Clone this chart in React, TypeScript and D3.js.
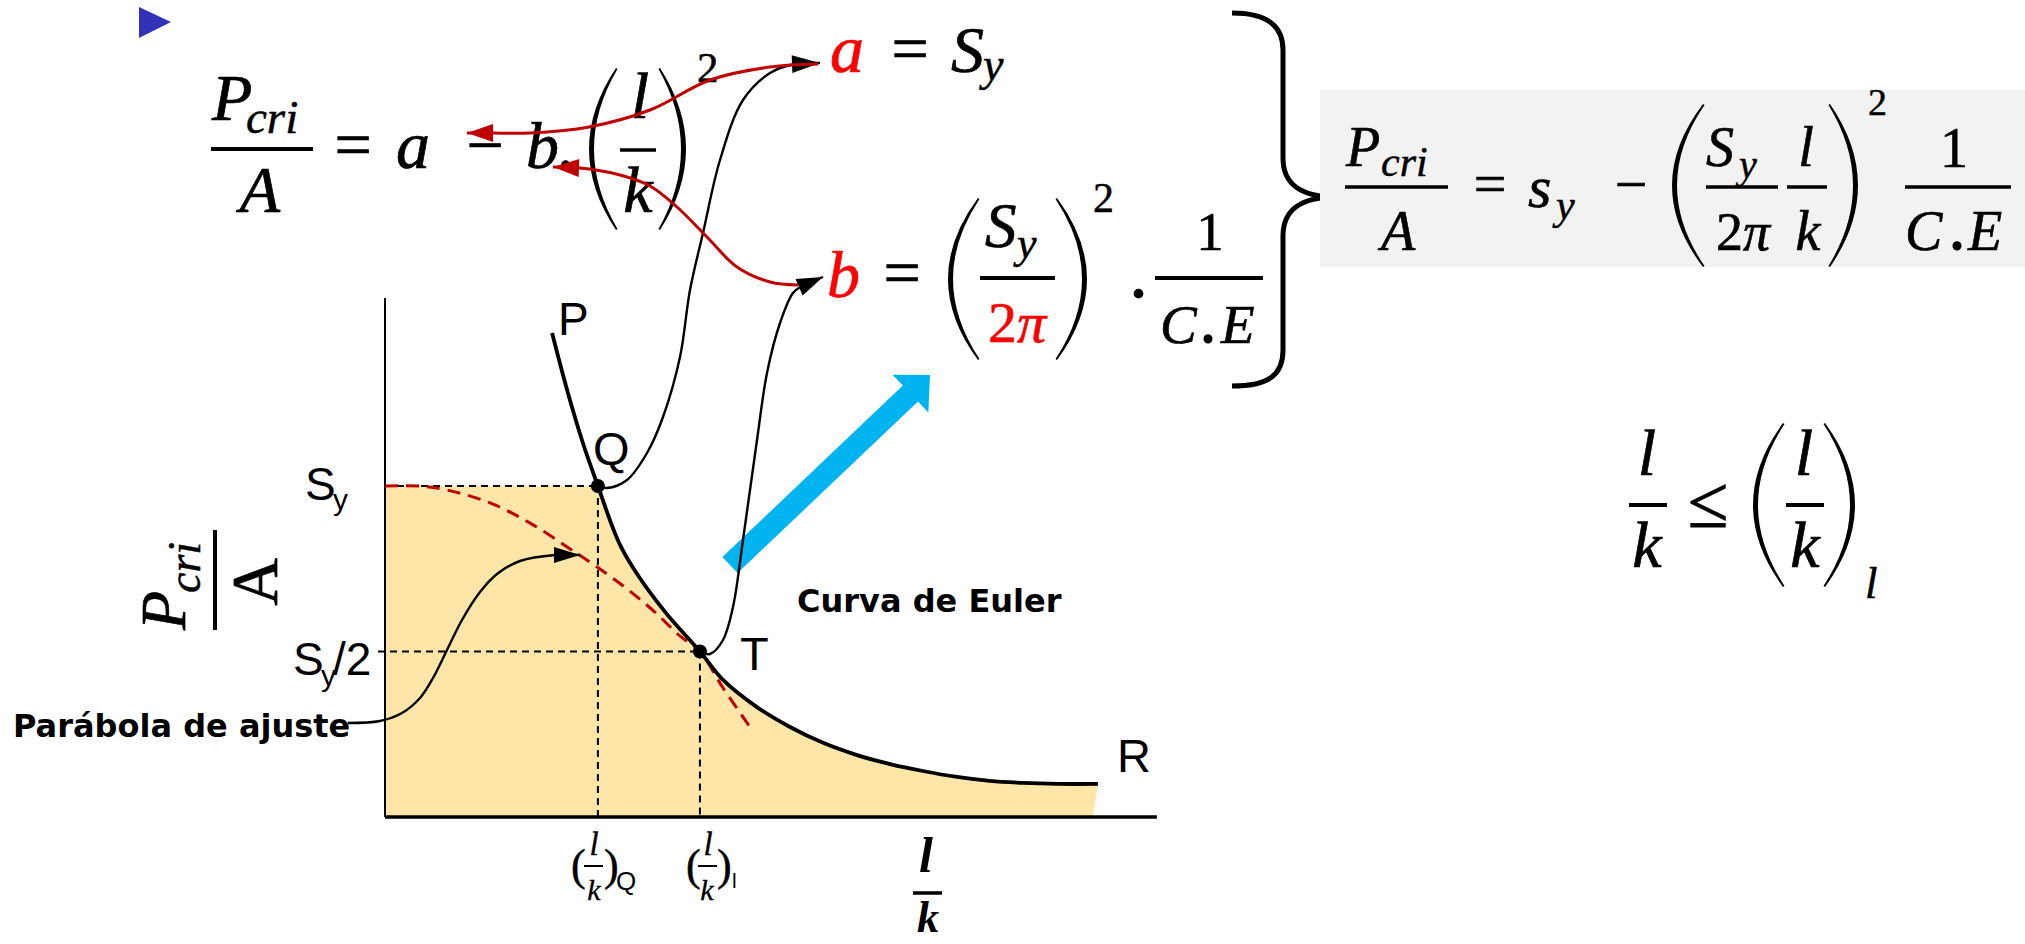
import React from "react";
import * as d3 from "d3";

// Critical stress Pcri/A (in units of Sy) against slenderness ratio l/k
const yieldStress = 1; // Sy
const halfYield = 0.5; // Sy/2
const lkAtQ = 55.3; // (l/k)_Q
const lkAtT = 81.8; // (l/k)_l

// Euler curve P-Q-T-R
const eulerLK = [43.4, 47.3, 51.4, 55.3, 59.2, 61.3, 66.0, 73.0, 81.8, 87.8, 96.6, 105.2, 113.8, 122.6, 131.2, 139.7, 148.6, 157.1, 165.7, 174.5, 185.2];
const eulerStress = [1.462, 1.29, 1.13, 1.0, 0.873, 0.816, 0.725, 0.616, 0.5, 0.414, 0.332, 0.272, 0.224, 0.187, 0.16, 0.139, 0.121, 0.109, 0.103, 0.1, 0.1];

// Johnson fitting parabola (dashed)
const parabolaLK = [0, 9.1, 16.1, 27.3, 37.7, 47.3, 55.1, 62.9, 70.1, 76.6, 81.8, 87.8, 94.8];
const parabolaStress = [1.0, 1.0, 0.988, 0.949, 0.888, 0.816, 0.755, 0.689, 0.619, 0.547, 0.5, 0.39, 0.272];

const fillEndLK = 183.9;
const axisMaxLK = 200.5;
const axisMaxStress = 1.568;

const W = 2025;
const H = 944;

const MATH = "'Liberation Serif', 'Times New Roman', serif";
const SANS = "'Liberation Sans', Arial, sans-serif";
const BOLD = "'DejaVu Sans', Verdana, sans-serif";
const RED = "#C00000";
const BRIGHT_RED = "#FF0000";

type Pt = [number, number];

// connector routes for the annotation arrows
const routeQtoA: Pt[] = [[607, 488], [627, 480], [647, 453], [663, 417], [680, 357], [690, 290], [703, 233], [720, 160], [743, 100], [770, 73], [795, 64]];
const tipA: Pt = [820, 63];
const routeTtoB: Pt[] = [[710, 654], [723, 640], [733, 607], [743, 540], [757, 440], [767, 373], [780, 323], [793, 293], [802, 286]];
const tipB: Pt = [823, 277];
const routeRedA: Pt[] = [[818, 64], [770, 67], [710, 80], [650, 110], [589, 127], [530, 133], [492, 133]];
const tipRedA: Pt = [467, 133];
const routeRedB: Pt[] = [[798, 285], [770, 282], [737, 267], [707, 237], [677, 207], [650, 186], [620, 175], [580, 168]];
const tipRedB: Pt = [553, 167];
const routeParabola: Pt[] = [[348, 723], [380, 721], [402, 713], [420, 698], [433, 678], [447, 650], [462, 620], [480, 592], [497, 574], [520, 561], [555, 555]];
const tipParabola: Pt = [580, 555];

const x = d3.scaleLinear().domain([0, 200]).range([385, 1155]);
const y = d3.scaleLinear().domain([0, axisMaxStress]).range([817, 298]);

const smooth = d3.line<Pt>().curve(d3.curveCatmullRom.alpha(0.5));
const dataLine = d3
  .line<Pt>()
  .x((d) => x(d[0]))
  .y((d) => y(d[1]))
  .curve(d3.curveCatmullRom.alpha(0.5));

function headPoints(tip: Pt, from: Pt, len: number, hw: number) {
  const dx = tip[0] - from[0];
  const dy = tip[1] - from[1];
  const L = Math.hypot(dx, dy);
  const ux = dx / L;
  const uy = dy / L;
  const bx = tip[0] - ux * len;
  const by = tip[1] - uy * len;
  return `${tip[0]},${tip[1]} ${bx - uy * hw},${by + ux * hw} ${bx + uy * hw},${by - ux * hw}`;
}

function Arrow({ pts, tip, color, width, len, hw }: { pts: Pt[]; tip: Pt; color: string; width: number; len: number; hw: number }) {
  const d = smooth([...pts, tip]) || "";
  return (
    <g>
      <path d={d} fill="none" stroke={color} strokeWidth={width} />
      <polygon points={headPoints(tip, pts[pts.length - 1], len, hw)} fill={color} />
    </g>
  );
}

function Paren({ x0, x1, y0, y1, left, t = 5 }: { x0: number; x1: number; y0: number; y1: number; left: boolean; t?: number }) {
  const ym = (y0 + y1) / 2;
  let d: string;
  if (left) {
    const xi = x1 + 1.5;
    d = `M${x1},${y0} Q${2 * x0 - x1},${ym} ${x1},${y1} L${xi},${y1 - 1} Q${2 * (x0 + t) - xi},${ym} ${xi},${y0 + 1} Z`;
  } else {
    const xi = x0 - 1.5;
    d = `M${x0},${y0} Q${2 * x1 - x0},${ym} ${x0},${y1} L${xi},${y1 - 1} Q${2 * (x1 - t) - xi},${ym} ${xi},${y0 + 1} Z`;
  }
  return <path d={d} fill="#000" />;
}

function Tx({
  x: tx,
  y: ty,
  s,
  it = false,
  c = "#000",
  a = "start",
  f = MATH,
  w = "normal",
  children,
}: {
  x: number;
  y: number;
  s: number;
  it?: boolean;
  c?: string;
  a?: "start" | "middle" | "end";
  f?: string;
  w?: string;
  children: React.ReactNode;
}) {
  // serif math glyphs get a thin outline so they read as heavy as a math font
  const heavy = f === MATH && w === "normal";
  return (
    <text
      x={tx}
      y={ty}
      fontSize={s}
      fontStyle={it ? "italic" : "normal"}
      fill={c}
      stroke={heavy ? c : "none"}
      strokeWidth={heavy ? s * 0.011 : 0}
      textAnchor={a}
      fontFamily={f}
      fontWeight={w}
    >
      {children}
    </text>
  );
}

function Bar({ x0, x1, yy, t = 4 }: { x0: number; x1: number; yy: number; t?: number }) {
  return <line x1={x0} x2={x1} y1={yy} y2={yy} stroke="#000" strokeWidth={t} />;
}

function BlueArrow() {
  const tail: Pt = [730, 565];
  const tip: Pt = [930, 375];
  const dx = tip[0] - tail[0];
  const dy = tip[1] - tail[1];
  const L = Math.hypot(dx, dy);
  const ux = dx / L;
  const uy = dy / L;
  const nx = -uy;
  const ny = ux;
  const sw = 11;
  const hl = 27;
  const hw = 26;
  const neck: Pt = [tip[0] - ux * hl, tip[1] - uy * hl];
  const p = [
    [tail[0] + nx * sw, tail[1] + ny * sw],
    [neck[0] + nx * sw, neck[1] + ny * sw],
    [neck[0] + nx * hw, neck[1] + ny * hw],
    tip,
    [neck[0] - nx * hw, neck[1] - ny * hw],
    [neck[0] - nx * sw, neck[1] - ny * sw],
    [tail[0] - nx * sw, tail[1] - ny * sw],
  ];
  return <polygon points={p.map((q) => q.join(",")).join(" ")} fill="#00B4F0" />;
}

export default function App() {
  const euler: Pt[] = eulerLK.map((v, i) => [v, eulerStress[i]]);
  const parabola: Pt[] = parabolaLK.map((v, i) => [v, parabolaStress[i]]);
  const eulerFromQ = euler.filter((d) => d[0] >= lkAtQ);
  const eulerFromQPath = (dataLine(eulerFromQ) || "").replace(/^M/, "L");
  const fillPath =
    `M${x(0)},${y(0)} L${x(0)},${y(yieldStress)} L${x(lkAtQ)},${y(yieldStress)} ` +
    eulerFromQPath +
    ` L${x(fillEndLK)},${y(0)} Z`;

  const qPt: Pt = [x(lkAtQ), y(yieldStress)];
  const tPt: Pt = [x(lkAtT), y(halfYield)];

  return (
    <svg width={W} height={H} style={{ position: "absolute", left: 0, top: 0, background: "#fff" }}>
      {/* bullet */}
      <polygon points="139,7 171,22 139,38" fill="#3232B8" />

      {/* Pcri/A = a - b.(l/k)^2 */}
      <Tx x={212} y={120} s={66} it>P</Tx>
      <Tx x={246} y={133} s={47} it>cri</Tx>
      <Bar x0={211} x1={313} yy={149} />
      <Tx x={260} y={212} s={66} it a="middle">A</Tx>
      <Tx x={353} y={167} s={66} a="middle">=</Tx>
      <Tx x={413} y={168} s={68} it a="middle">a</Tx>
      <Tx x={485} y={167} s={66} a="middle">−</Tx>
      <Tx x={526} y={168} s={66} it>b.</Tx>
      <Paren x0={589} x1={616} y0={68} y1={230} left />
      <Tx x={640} y={118} s={66} it a="middle">l</Tx>
      <Bar x0={620} x1={656} yy={150} t={3.5} />
      <Tx x={638} y={212} s={66} it a="middle">k</Tx>
      <Paren x0={660} x1={686} y0={68} y1={230} left={false} />
      <Tx x={697} y={82} s={43}>2</Tx>

      {/* a = Sy */}
      <Tx x={847} y={72} s={68} it a="middle" c={BRIGHT_RED}>a</Tx>
      <Tx x={910} y={71} s={66} a="middle">=</Tx>
      <Tx x={951} y={72} s={66} it>S</Tx>
      <Tx x={983} y={80} s={46} it>y</Tx>

      {/* b = (Sy/2π)^2 . 1/C.E */}
      <Tx x={827} y={297} s={66} it c={BRIGHT_RED}>b</Tx>
      <Tx x={902} y={295} s={66} a="middle">=</Tx>
      <Paren x0={948} x1={978} y0={198} y1={360} left />
      <Tx x={985} y={247} s={63} it>S</Tx>
      <Tx x={1017} y={258} s={44} it>y</Tx>
      <Bar x0={980} x1={1055} yy={278} />
      <text x={1017} y={342} fontSize={58} fill={BRIGHT_RED} stroke={BRIGHT_RED} strokeWidth={0.6} textAnchor="middle" fontFamily={MATH}>
        2<tspan fontStyle="italic">π</tspan>
      </text>
      <Paren x0={1057} x1={1087} y0={198} y1={360} left={false} />
      <Tx x={1093} y={212} s={42}>2</Tx>
      <Tx x={1131} y={298} s={60} w="bold">.</Tx>
      <Tx x={1210} y={250} s={55} a="middle">1</Tx>
      <Bar x0={1155} x1={1263} yy={278} />
      <Tx x={1160} y={343} s={55} it>C</Tx>
      <Tx x={1201} y={343} s={56} w="bold">.</Tx>
      <Tx x={1221} y={343} s={55} it>E</Tx>

      {/* brace */}
      <path
        d="M1232,13 C1270,13 1283,28 1283,50 L1283,158 C1283,184 1300,197 1337,197 C1300,197 1283,210 1283,236 L1283,350 C1283,374 1270,386 1232,386"
        fill="none"
        stroke="#000"
        strokeWidth={5}
      />

      {/* combined formula */}
      <rect x={1320} y={90} width={705} height={177} fill="#F2F2F2" />
      <Tx x={1346} y={166} s={56} it>P</Tx>
      <Tx x={1381} y={176} s={42} it>cri</Tx>
      <Bar x0={1345} x1={1448} yy={187} t={3.5} />
      <Tx x={1398} y={250} s={56} it a="middle">A</Tx>
      <Tx x={1490} y={203} s={58} a="middle">=</Tx>
      <Tx x={1528} y={207} s={60} it>s</Tx>
      <Tx x={1556} y={219} s={42} it>y</Tx>
      <Tx x={1631} y={204} s={58} a="middle">−</Tx>
      <Paren x0={1672} x1={1703} y0={104} y1={267} left />
      <Tx x={1706} y={166} s={56} it>S</Tx>
      <Tx x={1739} y={178} s={40} it>y</Tx>
      <Bar x0={1706} x1={1778} yy={187} t={3.5} />
      <text x={1743} y={250} fontSize={54} fill="#000" stroke="#000" strokeWidth={0.6} textAnchor="middle" fontFamily={MATH}>
        2<tspan fontStyle="italic">π</tspan>
      </text>
      <Tx x={1806} y={166} s={56} it a="middle">l</Tx>
      <Bar x0={1787} x1={1827} yy={187} t={3.5} />
      <Tx x={1808} y={250} s={56} it a="middle">k</Tx>
      <Paren x0={1830} x1={1858} y0={104} y1={267} left={false} />
      <Tx x={1868} y={115} s={38}>2</Tx>
      <Tx x={1954} y={167} s={56} a="middle">1</Tx>
      <Bar x0={1905} x1={2011} yy={187} t={3.5} />
      <Tx x={1905} y={250} s={56} it>C</Tx>
      <Tx x={1950} y={250} s={56} w="bold">.</Tx>
      <Tx x={1968} y={250} s={56} it>E</Tx>

      {/* l/k <= (l/k)_l */}
      <Tx x={1647} y={475} s={66} it a="middle">l</Tx>
      <Bar x0={1629} x1={1667} yy={505} />
      <Tx x={1647} y={567} s={66} it a="middle">k</Tx>
      <Tx x={1708} y={527} s={74} a="middle">≤</Tx>
      <Paren x0={1753} x1={1783} y0={423} y1={587} left />
      <Tx x={1804} y={475} s={66} it a="middle">l</Tx>
      <Bar x0={1786} x1={1824} yy={505} />
      <Tx x={1805} y={567} s={66} it a="middle">k</Tx>
      <Paren x0={1825} x1={1855} y0={423} y1={587} left={false} />
      <Tx x={1865} y={598} s={45} it>l</Tx>

      {/* chart: stable region */}
      <path d={fillPath} fill="#FDE6A7" />

      {/* reference dashes */}
      <g stroke="#000" strokeWidth={2} strokeDasharray="7 5" fill="none">
        <line x1={x(0)} x2={qPt[0]} y1={qPt[1]} y2={qPt[1]} />
        <line x1={x(0) - 7} x2={tPt[0]} y1={tPt[1]} y2={tPt[1]} />
        <line x1={qPt[0]} x2={qPt[0]} y1={qPt[1]} y2={y(0)} />
        <line x1={tPt[0]} x2={tPt[0]} y1={tPt[1]} y2={y(0)} />
      </g>

      {/* axes */}
      <line x1={x(0)} x2={x(0)} y1={y(axisMaxStress)} y2={y(0)} stroke="#000" strokeWidth={2} />
      <line x1={x(0)} x2={x(axisMaxLK)} y1={y(0)} y2={y(0)} stroke="#000" strokeWidth={3.5} />

      {/* fitting parabola */}
      <path d={dataLine(parabola) || ""} fill="none" stroke={RED} strokeWidth={3} strokeDasharray="13 8" />

      {/* Euler curve */}
      <path d={dataLine(euler) || ""} fill="none" stroke="#000" strokeWidth={3.8} />
      <circle cx={qPt[0]} cy={qPt[1]} r={7} fill="#000" />
      <circle cx={tPt[0]} cy={tPt[1]} r={7} fill="#000" />

      <BlueArrow />

      {/* annotation connectors */}
      <Arrow pts={[qPt, ...routeQtoA]} tip={tipA} color="#000" width={2.4} len={28} hw={9} />
      <Arrow pts={[tPt, ...routeTtoB]} tip={tipB} color="#000" width={2.4} len={26} hw={9} />
      <Arrow pts={routeRedA} tip={tipRedA} color={RED} width={3} len={26} hw={9} />
      <Arrow pts={routeRedB} tip={tipRedB} color={RED} width={3} len={26} hw={9} />
      <Arrow pts={routeParabola} tip={tipParabola} color="#000" width={2.4} len={26} hw={8} />

      {/* point labels */}
      <Tx x={558} y={335} s={46} f={SANS}>P</Tx>
      <Tx x={593} y={465} s={47} f={SANS}>Q</Tx>
      <Tx x={740} y={670} s={47} f={SANS}>T</Tx>
      <Tx x={1117} y={772} s={47} f={SANS}>R</Tx>

      {/* y-axis levels */}
      <Tx x={305} y={500} s={46} f={SANS}>S</Tx>
      <Tx x={333} y={510} s={30} f={SANS}>y</Tx>
      <Tx x={293} y={675} s={46} f={SANS}>S</Tx>
      <Tx x={321} y={686} s={30} f={SANS}>y</Tx>
      <Tx x={333} y={675} s={46} f={SANS}>/2</Tx>

      {/* y-axis title */}
      <g transform="rotate(-90)">
        <Tx x={-630} y={185} s={64} it>P</Tx>
        <Tx x={-593} y={200} s={46} it>cri</Tx>
        <line x1={-630} x2={-530} y1={215} y2={215} stroke="#000" strokeWidth={4} />
        <Tx x={-582} y={277} s={66} a="middle">A</Tx>
      </g>

      {/* x ticks */}
      <Tx x={571} y={880} s={44}>(</Tx>
      <Tx x={594} y={855} s={33} it a="middle">l</Tx>
      <Bar x0={584} x1={603} yy={866} t={2} />
      <Tx x={594} y={900} s={30} it a="middle">k</Tx>
      <Tx x={604} y={880} s={44}>)</Tx>
      <Tx x={616} y={890} s={26} f={SANS}>Q</Tx>

      <Tx x={686} y={880} s={44}>(</Tx>
      <Tx x={708} y={855} s={33} it a="middle">l</Tx>
      <Bar x0={698} x1={717} yy={866} t={2} />
      <Tx x={707} y={900} s={30} it a="middle">k</Tx>
      <Tx x={717} y={880} s={44}>)</Tx>
      <Tx x={732} y={888} s={21} f={SANS}>l</Tx>

      {/* x-axis title */}
      <Tx x={926} y={872} s={50} it w="bold" a="middle">l</Tx>
      <Bar x0={913} x1={942} yy={893} t={3.5} />
      <Tx x={928} y={932} s={44} it w="bold" a="middle">k</Tx>

      {/* notes */}
      <Tx x={797} y={612} s={32} f={BOLD} w="bold">Curva de Euler</Tx>
      <Tx x={13} y={737} s={32} f={BOLD} w="bold">Parábola de ajuste</Tx>
    </svg>
  );
}
